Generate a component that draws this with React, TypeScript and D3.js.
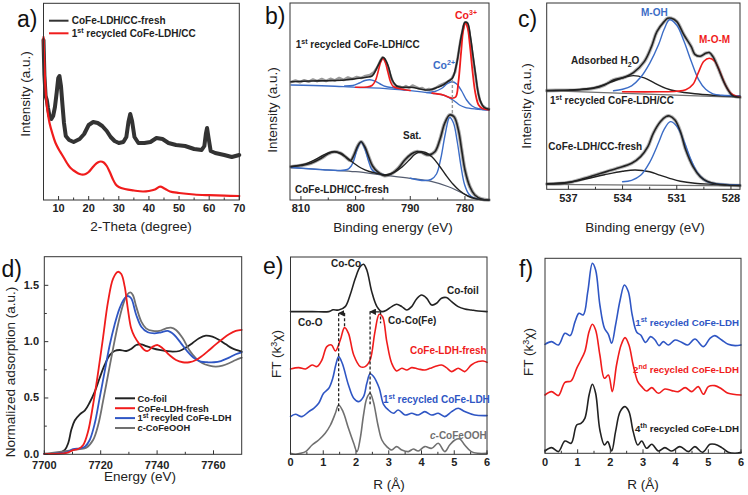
import React from 'react';
import * as d3 from 'd3';

type P = [number, number];

// ---------- Panel a : XRD ----------
const aXTicks = [10, 20, 30, 40, 50, 60, 70];
const aXMinor = [5, 15, 25, 35, 45, 55, 65];
const aFresh: P[] = [[5.0,160],[5.3,125],[5.7,104],[6.1,100],[6.5,92],[7.0,84],[7.6,81],[8.2,84],[8.8,93],[9.4,108],[9.9,122],[10.3,124],[10.8,114],[11.3,95],[11.8,77],[12.4,64],[13.5,60],[15,58],[17,61],[18.5,66],[20,75],[21.5,78],[23,77],[24.5,74],[26,69],[27.3,63],[28.6,59],[30,57],[31.5,58],[32.5,63],[33.2,78],[33.8,86],[34.4,79],[35.2,63],[36.5,57],[38.5,57],[40.5,58],[42.5,62],[44.5,61],[46.5,57],[49,55],[52,54],[55,51],[57.5,50],[58.4,54],[58.9,66],[59.3,72],[59.8,62],[60.5,49],[62,47],[65,45],[67.5,43],[70,45]];
const aRecycled: P[] = [[5.0,163],[5.3,135],[5.7,110],[6.2,92],[7,77],[8,66],[9,57],[10,51],[11,46],[12,41],[13,36],[14,32],[15,29.5],[16,27.5],[17,26],[18,25.3],[19,26],[20,28],[21,31.5],[22,35],[23,37.5],[24,38.5],[25,37.5],[26,34],[27,28],[28,21],[29,15.5],[30,13],[32,11],[35,9.5],[38,8.5],[40,9],[42,10.5],[43.7,13.3],[45.3,11.3],[47,8.5],[50,7],[55,5.5],[60,4.8],[65,4.3],[70,4]];

// ---------- Panel b : Co 2p XPS ----------
const bXTicks = [810, 800, 790, 780];
const bXMinor = [805, 795, 785];
const bTopRaw: P[] = [[811.8,118],[811,119.5],[810.2,117.8],[809.4,119.8],[808.6,118.2],[807.8,120.5],[807,118.8],[806.2,121],[805.4,119],[804.6,121.2],[803.8,119.5],[803,122],[802.2,120],[801.4,122.5],[800.6,121],[799.8,123],[799,122],[798.2,124],[797.4,125],[796.6,128],[796,133],[795.5,139],[795.1,142.5],[794.7,141],[794.2,135],[793.7,126],[793.2,118],[792.6,114],[792,113.5],[791.4,112],[790.8,114],[790.2,112],[789.6,114.5],[789,113],[788.4,111.5],[787.8,112],[787.2,110],[786.6,111],[786,110.5],[785.4,112],[784.8,114],[784.2,115.5],[783.6,117],[783,119],[782.4,121.5],[781.8,128],[781.3,143],[780.8,160],[780.3,173],[780,177.5],[779.6,177],[779.2,168],[778.8,152],[778.3,133],[777.8,114],[777.3,100],[776.8,94.5],[776.2,92],[775.6,91]];
const bTopEnv: P[] = [[811.8,118.3],[808,119],[805,119.3],[802,120],[800,121.3],[798,122.7],[797,124],[796,133.3],[795.3,140.7],[795,142.7],[794.6,140.7],[794,133.3],[793.3,120],[792.5,114],[791.5,112.7],[790,112.7],[789,112],[788,110.7],[786.5,110],[785,112.7],[784,115],[783,119],[782.3,121.7],[781.5,136.7],[781,153.3],[780.5,168.3],[780,177.7],[779.5,176.7],[779,163.3],[778.5,143.3],[778,123.3],[777.5,105],[777,96.7],[776.5,92.7],[775.6,90.7]];
const bTopBg: P[] = [[811.8,115],[805,114],[800,112.7],[795,111.7],[790,109.3],[786,106.7],[784,105],[783,102.7],[782,99.3],[781,95],[780,92.7],[778,91],[775.6,90]];
const bTopCo3a: P[] = [[800,112.8],[798,113],[797,114.5],[796.4,119],[795.9,128],[795.4,138],[795,141.5],[794.6,138],[794.1,128],[793.6,118],[793.1,113.5],[792,111.5],[790,109.5]];
const bTopCo2a: P[] = [[802,114],[800.5,114.5],[799.3,117],[798.3,119.5],[797.4,120.3],[796.5,119],[795.5,116],[794.5,113.5],[793,112],[791,110]];
const bTopCo3b: P[] = [[786,106.8],[784,105],[782.5,102],[781.7,103],[781.2,118],[780.7,148],[780.3,170],[779.9,177],[779.5,172],[779.1,155],[778.6,128],[778.1,107],[777.5,95],[776.8,91.5],[775.6,90.2]];
const bTopCo2b: P[] = [[787,107.5],[785.5,108.5],[784.3,111.5],[783.3,116],[782.4,118.3],[781.5,116],[780.6,109],[779.7,100],[778.7,94],[777.5,91.3],[775.6,90.2]];
const bBotEnv: P[] = [[811.8,33.3],[810,34.5],[808.2,36.7],[806.3,41.7],[805.1,46],[803.9,48.3],[802.7,46.7],[801.6,42],[800.9,39.5],[800.3,45],[799.6,54],[799.0,58.3],[798.3,53],[797.6,43],[796.9,34],[796.0,28.3],[794.7,24.3],[793.5,26],[792.2,31.7],[791.0,40],[789.8,46],[788.9,48.3],[788.0,47.7],[786.7,45],[785.5,48.3],[784.6,60],[783.7,76.7],[782.8,85],[782.0,83.3],[781.2,70],[780.6,50],[780.0,30],[779.1,13.3],[778.2,5],[777.0,1],[775.6,0]];
const bBotBg: P[] = [[811.8,32.3],[805,30],[800,28.3],[795,25],[790,21.7],[786,18.3],[783,13.3],[781,8.3],[779,3.3],[777,0.7],[775.6,0]];
const bBot799: P[] = [[811.8,32.5],[806,30.3],[803,29.5],[801.5,30.5],[800.8,34],[800.3,40],[799.7,51],[799.0,58],[798.3,51],[797.7,40],[797.1,31],[796.4,27.5],[795.5,26],[794.5,25]];
const bBot783: P[] = [[790,21.8],[787.5,19.5],[786.2,20.5],[785.2,26],[784.4,42],[783.6,66],[782.8,82.5],[782.1,77],[781.4,58],[780.7,33],[780.1,16],[779.3,6],[778.3,1.8],[777,0.6],[775.6,0]];
const bBotSat1: P[] = [[811.8,33.5],[809.5,35.5],[807.5,40],[806,44.5],[804.8,47.5],[804,48.3],[803,47],[801.8,43],[800.5,37.5],[799,32],[797.5,28.5],[796,26.5],[794.5,25]];
const bBotSat2: P[] = [[794.5,25],[793,27.5],[791.5,33],[790.2,40],[789.2,45.5],[788.2,48.3],[787.2,47.5],[786,43],[784.8,35],[783.5,25],[782.2,16],[781,9.5],[779.5,4],[778,1.2],[775.6,0]];
const bGuide: P[] = [[782.3,120],[782.3,85]];

// ---------- Panel c : O 1s XPS ----------
const cXTicks = [537, 534, 531, 528];
const cXMinor = [535.5, 532.5, 529.5];
const cTopEnv: P[] = [[538.2,98.7],[537.4,99],[536.5,99.3],[535.6,101],[535.0,104.3],[534.5,109.3],[533.9,112],[533.4,116.7],[532.8,127.7],[532.4,142.7],[532.1,157.7],[531.7,167.7],[531.5,171],[531.3,171],[531.0,167.7],[530.6,154.3],[530.2,142.7],[530.0,135],[529.7,133],[529.4,136],[529.2,136.7],[529.0,132.7],[528.7,121],[528.4,107.7],[528.1,97.7],[527.9,93.5],[527.5,92]];
const cTopBg: P[] = [[538.2,98.7],[527.5,92]];
const cTopH2O: P[] = [[538.2,98.7],[537,99.2],[536,100.5],[535.3,103],[534.6,107.5],[534,111.5],[533.4,113.7],[532.8,111.5],[532.2,106],[531.6,101],[531,98],[530,95.5],[529,94],[527.5,92.5]];
const cTopOH: P[] = [[534.5,98.5],[534,100],[533.5,103.5],[533,112],[532.5,126],[532,145],[531.7,160],[531.4,169.5],[531,164],[530.6,148],[530.2,128],[529.8,110],[529.4,100],[529,95.5],[528.5,94],[527.5,93.5]];
const cTopMOM: P[] = [[534,97.5],[532,97.5],[531,98],[530.5,99.5],[530.1,105],[529.8,117],[529.5,128],[529.2,131],[528.9,128],[528.6,117],[528.3,104],[528,96],[527.7,93],[527.5,92.5]];
const cBotEnv: P[] = [[538.2,5.3],[537.0,6.7],[536.1,11],[535.2,16],[534.3,21],[533.5,26],[533.0,32.7],[532.6,42.7],[532.3,56],[531.9,67.7],[531.6,72.7],[531.4,73.3],[531.1,69.3],[530.8,57.7],[530.5,39.3],[530.1,22.7],[529.7,12.7],[529.3,7.7],[528.8,5.3],[528.2,4.3],[527.5,3.7]];
const cBotBg: P[] = [[538.2,5],[527.5,3.5]];
const cBotOH: P[] = [[534,7.5],[533.5,9],[533,14],[532.5,27],[532,47],[531.7,60],[531.35,67.7],[531,63],[530.6,48],[530.2,29],[529.8,15],[529.4,8.5],[529,6],[528,4.5],[527.5,4]];
const cBotH2O: P[] = [[538.2,5.5],[537,7],[536,10.5],[535,14.5],[534,18],[533.3,19.3],[532.5,17.5],[532,14.5],[531.4,11],[530.8,8],[530,6],[529,5],[527.5,4]];

// ---------- Panel d : XANES ----------
const dXTicks = [7700, 7720, 7740, 7760];
const dXMinor = [7710, 7730, 7750];
const dYTicks = [0, 0.5, 1.0, 1.5];
const dYMinor = [0.25, 0.75, 1.25];
const dCoFoil: P[] = [[7700,0.006],[7704.9,0.01],[7707.3,0.04],[7708.5,0.1],[7709.6,0.22],[7710.8,0.3],[7712.6,0.355],[7714.4,0.39],[7716.1,0.46],[7717.9,0.556],[7719.6,0.675],[7721.4,0.793],[7723.2,0.88],[7724.9,0.917],[7726.7,0.926],[7729.1,0.917],[7730.8,0.935],[7732.6,0.97],[7734.4,0.976],[7736.1,0.96],[7738.5,0.94],[7740.8,0.926],[7743.2,0.917],[7745.5,0.911],[7747.9,0.917],[7750.2,0.947],[7752.6,0.988],[7754.9,1.03],[7757.3,1.053],[7759.6,1.044],[7762,1.015],[7764.4,0.976],[7766.7,0.94],[7770,0.912]];
const dFresh: P[] = [[7700,0.003],[7707.9,0.012],[7710.2,0.038],[7712,0.047],[7713.8,0.083],[7715.5,0.2],[7717.3,0.44],[7719.1,0.73],[7720.8,1.03],[7722.6,1.355],[7724.4,1.56],[7726.1,1.62],[7727.3,1.6],[7728.5,1.49],[7729.6,1.296],[7730.8,1.118],[7732,1.044],[7733.8,0.976],[7735.5,0.926],[7736.7,0.917],[7738.5,0.956],[7740.2,0.97],[7742,0.94],[7744.4,0.88],[7746.7,0.837],[7749.1,0.817],[7751.4,0.817],[7753.8,0.837],[7756.1,0.876],[7758.5,0.926],[7760.8,0.976],[7763.2,1.024],[7765.5,1.065],[7767.9,1.095],[7770,1.104]];
const dRecycled: P[] = [[7700,0.003],[7707.9,0.018],[7710.2,0.047],[7712.6,0.053],[7714.4,0.068],[7716.1,0.127],[7717.9,0.275],[7719.6,0.497],[7721.4,0.734],[7723.2,0.97],[7724.9,1.148],[7726.7,1.296],[7728.5,1.385],[7729.6,1.405],[7730.8,1.385],[7732.6,1.237],[7734.4,1.133],[7736.7,1.083],[7739.1,1.074],[7741.4,1.083],[7743.8,1.095],[7746.1,1.059],[7748.5,0.985],[7750.8,0.911],[7753.2,0.852],[7755.5,0.822],[7757.9,0.817],[7760.2,0.817],[7762.6,0.828],[7765.5,0.858],[7767.9,0.888],[7770,0.905]];
const dCoFeOOH: P[] = [[7700,0.003],[7710.2,0.038],[7712.6,0.047],[7714.9,0.059],[7717.3,0.127],[7719.1,0.26],[7720.8,0.467],[7722.6,0.704],[7724.4,0.94],[7726.1,1.148],[7727.9,1.325],[7729.3,1.414],[7730.5,1.438],[7731.4,1.414],[7732.6,1.311],[7734.4,1.178],[7736.1,1.118],[7738.5,1.095],[7740.8,1.095],[7743.2,1.118],[7744.9,1.124],[7746.7,1.104],[7749.1,1.03],[7751.4,0.926],[7753.8,0.852],[7756.1,0.808],[7758.5,0.787],[7760.8,0.778],[7763.2,0.787],[7765.5,0.808],[7767.9,0.837],[7770,0.858]];
const dLegend = ['Co-foil', 'CoFe-LDH-fresh', '1st recyled CoFe-LDH', 'c-CoFeOOH'];

// ---------- Panel e : EXAFS ----------
const rTicks = [0, 1, 2, 3, 4, 5, 6];
const rMinor = [0.5, 1.5, 2.5, 3.5, 4.5, 5.5];
const eCoFoil: P[] = [[0,142.7],[0.66,142.7],[1.17,142.7],[1.3,144.5],[1.47,144.3],[1.67,147.7],[1.82,159.3],[1.98,176],[2.13,187.7],[2.23,190],[2.33,184.3],[2.48,162.7],[2.64,147.7],[2.79,142.7],[2.94,144.3],[3.09,147.7],[3.24,150],[3.4,147.7],[3.55,144.3],[3.7,147.7],[3.85,155.3],[4.0,159.3],[4.16,156],[4.31,149.3],[4.46,151],[4.61,156],[4.76,156.7],[4.92,152.7],[5.12,147.7],[5.32,145.3],[5.52,144.3],[5.73,143.3],[6,142.7]];
const eFresh: P[] = [[0,85.3],[0.25,86.7],[0.46,85.3],[0.66,89.3],[0.81,87.7],[0.96,94.3],[1.11,107.7],[1.25,109.3],[1.37,103.3],[1.52,114.3],[1.65,126.7],[1.77,121],[1.93,99.3],[2.13,87.7],[2.28,87.7],[2.43,94.3],[2.58,122.7],[2.71,140],[2.81,137.7],[2.94,112.7],[3.09,91],[3.24,83.3],[3.4,86],[3.55,84.3],[3.7,86.7],[3.9,85.3],[4.1,84.3],[4.26,86],[4.41,87.7],[4.61,89.3],[4.76,86.7],[4.92,82.7],[5.12,86],[5.32,82.7],[5.52,89.3],[5.73,92.7],[5.88,93.3],[6,92]];
const eRecycled: P[] = [[0,37.7],[0.15,40],[0.35,37.7],[0.56,42.7],[0.71,46],[0.86,51],[1.01,61],[1.17,66],[1.29,76],[1.38,89],[1.47,97.7],[1.58,91],[1.77,69.3],[1.93,56],[2.08,52.7],[2.23,57.7],[2.33,71],[2.43,80.5],[2.53,78],[2.71,66],[2.84,50],[2.99,44.3],[3.14,41],[3.29,44.3],[3.5,39.3],[3.7,41],[3.9,39.3],[4.1,42.7],[4.31,39.3],[4.51,41],[4.71,37.7],[4.92,42.7],[5.12,46],[5.32,42.7],[5.62,39.3],[6,38.7]];
const eCoFeOOH: P[] = [[0,1],[0.15,0],[0.3,1],[0.46,2.7],[0.66,9.3],[0.86,14.3],[1.06,21],[1.22,29.3],[1.37,41],[1.47,49.3],[1.6,43],[1.77,26],[1.93,11],[2.03,2.7],[2.13,16],[2.23,39.3],[2.33,56],[2.43,61],[2.53,52.7],[2.67,29.3],[2.79,14.3],[2.94,7.7],[3.09,4.3],[3.24,7.7],[3.4,4.3],[3.6,2.7],[3.75,5.3],[3.9,3.3],[4.1,7.7],[4.31,6],[4.51,11],[4.71,2.7],[4.86,9.3],[5.02,14.3],[5.17,15.3],[5.32,9.3],[5.52,2.7],[5.73,1],[6,1]];
const eGuides: P[][] = [[[1.47,141],[1.47,43]],[[1.65,141],[1.65,126]],[[2.43,142.7],[2.43,50]],[[2.75,142.7],[2.75,131]]];
const eArrows: P[][] = [[[1.65,141],[1.49,141]],[[2.75,142.5],[2.45,142.5]]];

// ---------- Panel f : EXAFS cycles ----------
const f1st: P[] = [[0,109],[0.2,111.7],[0.41,108.3],[0.61,120],[0.77,117.7],[0.92,131.7],[1.04,140],[1.17,138.3],[1.31,161.7],[1.45,190],[1.55,183.3],[1.68,148.3],[1.82,125],[1.94,119],[2.04,110],[2.16,128.3],[2.3,153.3],[2.43,168.3],[2.55,161.7],[2.67,138.3],[2.81,121],[2.93,118.3],[3.08,110.9],[3.23,116.7],[3.37,113.3],[3.49,107.7],[3.62,111.7],[3.78,108.3],[3.98,113.3],[4.18,111],[4.37,108.3],[4.59,114.3],[4.85,106.7],[5.05,115],[5.2,117.7],[5.41,113.3],[5.61,109],[5.82,107.7],[6,108.3]];
const f2nd: P[] = [[0,58.3],[0.2,61.7],[0.41,57.7],[0.61,71],[0.8,72.3],[0.97,85],[1.1,93.3],[1.22,101.7],[1.35,121.7],[1.45,129],[1.55,123.3],[1.68,98.3],[1.82,75],[1.94,78.3],[2.06,61.7],[2.19,88.3],[2.33,108.3],[2.45,115.7],[2.57,108.3],[2.7,88.3],[2.84,71.7],[2.96,66.7],[3.11,62.3],[3.27,65.7],[3.47,60],[3.67,64.3],[3.88,62.7],[4.08,61.7],[4.29,65.7],[4.49,61.7],[4.69,66.7],[4.85,59],[5.0,66.7],[5.2,67.7],[5.41,64.3],[5.61,60],[6,58.3]];
const f4th: P[] = [[0,2.3],[0.2,5.7],[0.41,1.7],[0.61,12.3],[0.8,10],[0.97,28.3],[1.1,30],[1.22,35],[1.35,58.3],[1.45,69],[1.55,60],[1.68,23.3],[1.82,8.3],[1.92,11.7],[2.04,2.3],[2.16,21.7],[2.3,41.7],[2.45,46.7],[2.57,41.7],[2.7,21.7],[2.84,8.3],[2.96,12.3],[3.11,5],[3.27,9],[3.47,2.3],[3.67,5.7],[3.88,2.3],[4.13,6.7],[4.39,1.7],[4.59,6.7],[4.82,1],[5.05,9],[5.2,9],[5.41,5.7],[5.61,1],[5.82,0],[6,1]];

// ---------- styling ----------
const FONT = "'Liberation Sans', Arial, Helvetica, sans-serif";
const AX = '#333';
const BLK = '#222';
const RED = '#f01c1c';
const BLUE = '#2f56c4';
const XBLUE = '#3b6cc6';
const GRAY = '#707070';

interface Box { l: number; r: number; t: number; b: number }

function mk(box: Box, xd: number[], yd: number[]) {
  const x = d3.scaleLinear().domain(xd).range([box.l, box.r]);
  const y = d3.scaleLinear().domain(yd).range([box.b, box.t]);
  const smooth = d3.line<P>().x(d => x(d[0])).y(d => y(d[1])).curve(d3.curveCatmullRom.alpha(0.5));
  const straight = d3.line<P>().x(d => x(d[0])).y(d => y(d[1]));
  return { x, y, smooth, straight };
}

function Frame({ box }: { box: Box }) {
  return <rect x={box.l} y={box.t} width={box.r - box.l} height={box.b - box.t} fill="none" stroke={AX} strokeWidth={1} />;
}

function XAxis({ box, x, major, minor, labelY, fmt }: any) {
  return (
    <g>
      {major.map((v: number) => <line key={'M' + v} x1={x(v)} x2={x(v)} y1={box.b} y2={box.b - 4} stroke={AX} />)}
      {minor.map((v: number) => <line key={'m' + v} x1={x(v)} x2={x(v)} y1={box.b} y2={box.b - 2.5} stroke={AX} />)}
      {major.map((v: number) => (
        <text key={'t' + v} x={x(v)} y={labelY} textAnchor="middle" fontSize={11} fontWeight="bold" fill="#222">{fmt ? fmt(v) : String(v)}</text>
      ))}
    </g>
  );
}

function YTitle({ x, y, children }: any) {
  return (
    <text transform={`translate(${x},${y}) rotate(-90)`} textAnchor="middle" fontSize={13.5} fill="#222">{children}</text>
  );
}

function Sup({ base, sup, rest, size = 7, rise = 4 }: any) {
  return <>{base}<tspan dy={-rise} fontSize={size}>{sup}</tspan><tspan dy={rise}>{rest}</tspan></>;
}

function legendText(s: string) {
  if (s.startsWith('1st')) return <Sup base="1" sup="st" rest={s.slice(3)} size={6.3} rise={3.2} />;
  if (s.startsWith('c-')) return <><tspan fontStyle="italic">c</tspan>{s.slice(1)}</>;
  return s;
}

export default function App() {
  const A: Box = { l: 43.5, r: 239.3, t: 3.3, b: 200 };
  const B: Box = { l: 290, r: 489, t: 3, b: 200 };
  const C: Box = { l: 546.7, r: 740, t: 3, b: 189.3 };
  const D: Box = { l: 44.3, r: 241.7, t: 256.7, b: 454.3 };
  const E: Box = { l: 290.5, r: 487, t: 257, b: 454.3 };
  const F: Box = { l: 545, r: 741, t: 258.3, b: 453.3 };

  const a = mk(A, [5, 70], [0, 196.7]);
  const b = mk(B, [812, 775.6], [0, 197]);
  const c = mk(C, [538.2, 527.5], [0, 186.3]);
  const d = mk(D, [7700, 7770], [0, 1.754]);
  const e = mk(E, [0, 6], [0, 197.3]);
  const f = mk(F, [0, 6], [0, 195]);

  const path = (gen: any, data: P[], color: string, w: number, extra: any = {}) => (
    <path d={gen(data) || ''} fill="none" stroke={color} strokeWidth={w} strokeLinejoin="round" strokeLinecap="round" {...extra} />
  );

  const dColors = [BLK, RED, BLUE, GRAY];
  const dRows = [398.3, 408.2, 418.1, 428.0];

  return (
    <svg width={748} height={495} viewBox="0 0 748 495" style={{ display: 'block', position: 'absolute', left: 0, top: 0, background: '#fff' }} fontFamily={FONT}>
      <rect x={0} y={0} width={748} height={495} fill="#fff" />

      {/* ===== Panel a ===== */}
      <g>
        {path(a.straight, aFresh, '#333', 4)}
        {path(a.smooth, aRecycled, RED, 2.2)}
        <Frame box={A} />
        <XAxis box={A} x={a.x} major={aXTicks} minor={aXMinor} labelY={212} />
        <text x={141} y={231} textAnchor="middle" fontSize={13.5} fill="#222">2-Theta (degree)</text>
        <YTitle x={29.5} y={94}>Intensity (a.u.)</YTitle>
        <line x1={49} x2={68.5} y1={20.7} y2={20.7} stroke="#333" strokeWidth={2} />
        <text x={71.7} y={24.3} fontSize={10} fontWeight="bold" fill="#222">CoFe-LDH/CC-fresh</text>
        <line x1={49} x2={68.5} y1={33.3} y2={33.3} stroke={RED} strokeWidth={2} />
        <text x={71.7} y={37} fontSize={10} fontWeight="bold" fill="#222"><Sup base="1" sup="st" rest=" recycled CoFe-LDH/CC" /></text>
        <text x={17} y={27} fontSize={23} fill="#111">a)</text>
      </g>

      {/* ===== Panel b ===== */}
      <g>
        {path(b.straight, bTopRaw, '#9a9a9a', 2.6)}
        {path(b.smooth, bBotEnv, '#a8a8a8', 3.6)}
        {path(b.smooth, bTopBg, XBLUE, 1.3)}
        {path(b.smooth, bTopCo2a, XBLUE, 1.4)}
        {path(b.smooth, bTopCo2b, XBLUE, 1.4)}
        {path(b.smooth, bTopCo3a, RED, 1.6)}
        {path(b.smooth, bTopCo3b, RED, 1.8)}
        {path(b.smooth, bTopEnv, BLK, 1.6)}
        {path(b.smooth, bBotBg, '#555d70', 1.2)}
        {path(b.smooth, bBot799, XBLUE, 1.4)}
        {path(b.smooth, bBot783, XBLUE, 1.4)}
        {path(b.smooth, bBotSat1, BLK, 1.4)}
        {path(b.smooth, bBotSat2, BLK, 1.4)}
        {path(b.smooth, bBotEnv, BLK, 1.6)}
        {path(b.straight, bGuide, '#999', 1.4, { strokeDasharray: '3,2', strokeLinecap: 'butt' })}
        <Frame box={B} />
        <XAxis box={B} x={b.x} major={bXTicks} minor={bXMinor} labelY={212} />
        <text x={393} y={232} textAnchor="middle" fontSize={13.5} fill="#222">Binding energy (eV)</text>
        <YTitle x={277} y={110}>Intensity (a.u.)</YTitle>
        <text x={295.7} y={48} fontSize={10} fontWeight="bold" fill="#222"><Sup base="1" sup="st" rest=" recycled CoFe-LDH/CC" /></text>
        <text x={455} y={19} fontSize={10.5} fontWeight="bold" fill={RED}><Sup base="Co" sup="3+" rest="" /></text>
        <text x={433} y={69} fontSize={10.5} fontWeight="bold" fill={XBLUE}><Sup base="Co" sup="2+" rest="" /></text>
        <text x={403} y={139} fontSize={10} fontWeight="bold" fill="#222">Sat.</text>
        <text x={295} y={193} fontSize={10} fontWeight="bold" fill="#222">CoFe-LDH/CC-fresh</text>
        <text x={265} y={24} fontSize={23} fill="#111">b)</text>
      </g>

      {/* ===== Panel c ===== */}
      <g>
        {path(c.smooth, cTopEnv, '#b5b5b5', 3.6)}
        {path(c.smooth, cBotEnv, '#b5b5b5', 3.6)}
        {path(c.straight, cTopBg, GRAY, 1.2)}
        {path(c.smooth, cTopH2O, BLK, 1.4)}
        {path(c.smooth, cTopOH, XBLUE, 1.4)}
        {path(c.smooth, cTopMOM, RED, 1.6)}
        {path(c.smooth, cTopEnv, BLK, 1.6)}
        {path(c.straight, cBotBg, GRAY, 1.2)}
        {path(c.smooth, cBotH2O, BLK, 1.4)}
        {path(c.smooth, cBotOH, XBLUE, 1.4)}
        {path(c.smooth, cBotEnv, BLK, 1.6)}
        <Frame box={C} />
        <XAxis box={C} x={c.x} major={cXTicks} minor={cXMinor} labelY={202} />
        <text x={645} y={232} textAnchor="middle" fontSize={13.5} fill="#222">Binding energy (eV)</text>
        <YTitle x={531} y={106}>Intensity (a.u.)</YTitle>
        <text x={641} y={15.5} fontSize={10} fontWeight="bold" fill={XBLUE}>M-OH</text>
        <text x={699} y={43} fontSize={10} fontWeight="bold" fill={RED}>M-O-M</text>
        <text x={571} y={64} fontSize={10} fontWeight="bold" fill="#222">Adsorbed H<tspan dy={3} fontSize={7}>2</tspan><tspan dy={-3}>O</tspan></text>
        <text x={550} y={104} fontSize={10} fontWeight="bold" fill="#222"><Sup base="1" sup="st" rest=" recycled CoFe-LDH/CC" /></text>
        <text x={548.3} y={150} fontSize={10} fontWeight="bold" fill="#222">CoFe-LDH/CC-fresh</text>
        <text x={518} y={27} fontSize={23} fill="#111">c)</text>
      </g>

      {/* ===== Panel d ===== */}
      <g>
        {path(d.smooth, dCoFoil, BLK, 1.8)}
        {path(d.smooth, dCoFeOOH, GRAY, 1.8)}
        {path(d.smooth, dRecycled, BLUE, 1.8)}
        {path(d.smooth, dFresh, RED, 1.8)}
        <Frame box={D} />
        <XAxis box={D} x={d.x} major={dXTicks} minor={dXMinor} labelY={468.5} />
        {dYTicks.map(v => <line key={'yM' + v} x1={D.l} x2={D.l + 4} y1={d.y(v)} y2={d.y(v)} stroke={AX} />)}
        {dYMinor.map(v => <line key={'ym' + v} x1={D.l} x2={D.l + 2.5} y1={d.y(v)} y2={d.y(v)} stroke={AX} />)}
        {dYTicks.map(v => <text key={'yt' + v} x={39} y={d.y(v) + 3.5} textAnchor="end" fontSize={11} fontWeight="bold" fill="#222">{d3.format('.1f')(v)}</text>)}
        <text x={140} y={481} textAnchor="middle" fontSize={13.5} fill="#222">Energy (eV)</text>
        <YTitle x={14.5} y={372}>Normalized adsorption (a.u.)</YTitle>
        {dLegend.map((s, i) => (
          <g key={'lg' + i}>
            <line x1={115} x2={135} y1={dRows[i]} y2={dRows[i]} stroke={dColors[i]} strokeWidth={2} />
            <text x={137.5} y={dRows[i] + 3.3} fontSize={9.3} fontWeight="bold" fill="#222">{legendText(s)}</text>
          </g>
        ))}
        <text x={1.5} y={277} fontSize={23} fill="#111">d)</text>
      </g>

      {/* ===== Panel e ===== */}
      <g>
        {path(e.smooth, eCoFoil, BLK, 1.6)}
        {path(e.smooth, eFresh, RED, 1.6)}
        {path(e.smooth, eRecycled, BLUE, 1.6)}
        {path(e.smooth, eCoFeOOH, GRAY, 1.6)}
        {eGuides.map((g, i) => <g key={'eg' + i}>{path(e.straight, g, '#222', 1.3, { strokeDasharray: '3,2', strokeLinecap: 'butt' })}</g>)}
        <defs>
          <marker id="arr" viewBox="0 0 10 10" refX={8} refY={5} markerWidth={5} markerHeight={5} orient="auto">
            <path d="M0,0 L10,5 L0,10 z" fill="#222" />
          </marker>
        </defs>
        {eArrows.map((g, i) => <g key={'ea' + i}>{path(e.straight, g, '#222', 1.3, { markerEnd: 'url(#arr)' })}</g>)}
        <Frame box={E} />
        <XAxis box={E} x={e.x} major={rTicks} minor={rMinor} labelY={466} />
        <text x={389} y={489} textAnchor="middle" fontSize={13.5} fill="#222">R (Å)</text>
        <YTitle x={281} y={354}>FT (k<tspan dy={-4} fontSize={9}>3</tspan><tspan dy={4}>χ)</tspan></YTitle>
        <text x={331} y={267} fontSize={10} fontWeight="bold" fill="#222">Co-Co</text>
        <text x={447} y={294} fontSize={10} fontWeight="bold" fill="#222">Co-foil</text>
        <text x={298} y={325.5} fontSize={10} fontWeight="bold" fill="#222">Co-O</text>
        <text x={388} y={324} fontSize={10} fontWeight="bold" fill="#222">Co-Co(Fe)</text>
        <text x={410} y={354} fontSize={10} fontWeight="bold" fill={RED}>CoFe-LDH-fresh</text>
        <text x={383} y={403} fontSize={10} fontWeight="bold" fill={BLUE}><Sup base="1" sup="st" rest=" recycled CoFe-LDH" /></text>
        <text x={430} y={439} fontSize={10} fontWeight="bold" fill={GRAY}><tspan fontStyle="italic">c</tspan>-CoFeOOH</text>
        <text x={263} y={274} fontSize={23} fill="#111">e)</text>
      </g>

      {/* ===== Panel f ===== */}
      <g>
        {path(f.smooth, f1st, BLUE, 1.6)}
        {path(f.smooth, f2nd, RED, 1.6)}
        {path(f.smooth, f4th, BLK, 1.6)}
        <Frame box={F} />
        <XAxis box={F} x={f.x} major={rTicks} minor={rMinor} labelY={466} />
        <text x={643} y={489} textAnchor="middle" fontSize={13.5} fill="#222">R (Å)</text>
        <YTitle x={532.5} y={352}>FT (k<tspan dy={-4} fontSize={9}>3</tspan><tspan dy={4}>χ)</tspan></YTitle>
        <text x={739} y={326} textAnchor="end" fontSize={9.7} fontWeight="bold" fill={BLUE}><Sup base="1" sup="st" rest=" recycled CoFe-LDH" /></text>
        <text x={739} y={373} textAnchor="end" fontSize={9.7} fontWeight="bold" fill={RED}><Sup base="2" sup="nd" rest=" recycled CoFe-LDH" /></text>
        <text x={739} y={431.5} textAnchor="end" fontSize={9.7} fontWeight="bold" fill="#222"><Sup base="4" sup="th" rest=" recycled CoFe-LDH" /></text>
        <text x={519} y={277} fontSize={23} fill="#111">f)</text>
      </g>
    </svg>
  );
}
